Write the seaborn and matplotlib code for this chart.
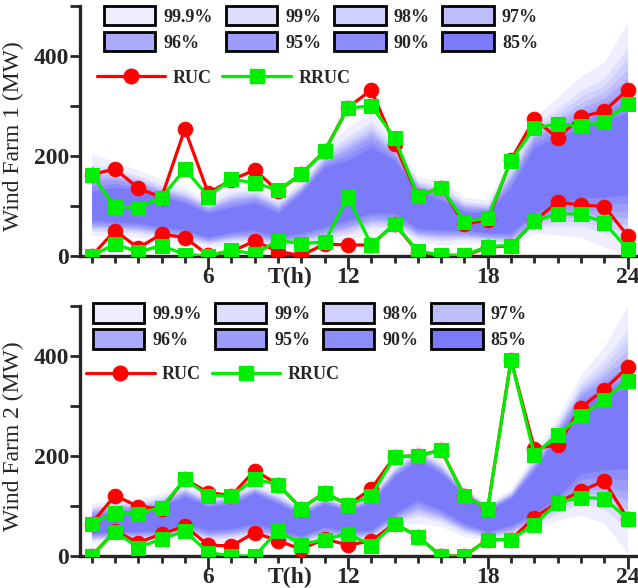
import numpy as np
import matplotlib.pyplot as plt
import seaborn as sns
from matplotlib.patches import Patch
from matplotlib.lines import Line2D

hours = np.arange(1, 25)

# confidence levels of the forecast fan, outermost first
levels = ['99.9%', '99%', '98%', '97%', '96%', '95%', '90%', '85%']
level_colors = ['#EEEEFE', '#DEDEFE', '#D0D0FE', '#BEBEFD', '#ABABFC', '#9C9CFB', '#8D8DFA', '#7B7BFA']
# where each level sits between the 85% core (0) and the 99.9% envelope (1)
level_pos = [1.0, 0.72, 0.6, 0.48, 0.38, 0.28, 0.14, 0.0]

# Wind farm 1: forecast envelope (99.9%) and core (85%) bounds, MW
wf1_hi = [204, 188, 172, 152, 138, 112, 138, 142, 118, 152, 216, 258, 288, 232, 158, 150, 118, 112, 192, 276, 318, 360, 388, 466]
wf1_core_hi = [130, 138, 132, 118, 106, 86, 98, 106, 86, 126, 178, 192, 218, 192, 130, 112, 88, 86, 138, 218, 238, 256, 272, 286]
wf1_core_lo = [72, 68, 66, 58, 52, 38, 48, 52, 38, 46, 58, 72, 86, 86, 55, 52, 52, 46, 46, 86, 106, 116, 118, 122]
wf1_lo = [40, 42, 38, 32, 26, 18, 22, 22, 16, 18, 26, 32, 46, 46, 28, 22, 26, 24, 18, 46, 42, 38, 18, 0]
# Wind farm 1: RUC / RRUC upper and lower bounds
wf1_ruc_hi = [163, 174, 136, 117, 254, 126, 152, 172, 130, 164, 210, 297, 332, 224, 120, 137, 64, 72, 192, 274, 236, 278, 290, 332]
wf1_ruc_lo = [0, 51, 16, 44, 37, 2, 9, 30, 9, 1, 24, 22, 22, 64, 8, 0, 0, 18, 20, 70, 108, 102, 99, 41]
wf1_rruc_hi = [163, 99, 97, 117, 174, 119, 154, 146, 132, 164, 210, 296, 300, 237, 120, 137, 69, 76, 191, 256, 264, 260, 268, 304]
wf1_rruc_lo = [0, 24, 8, 21, 3, 0, 12, 4, 31, 25, 28, 118, 23, 64, 10, 2, 2, 19, 21, 70, 84, 84, 67, 14]

# Wind farm 2
wf2_hi = [106, 112, 115, 125, 145, 119, 129, 145, 129, 100, 125, 105, 127, 185, 225, 192, 139, 105, 135, 205, 279, 362, 419, 499]
wf2_core_hi = [79, 89, 92, 99, 119, 99, 105, 125, 105, 82, 105, 89, 107, 159, 192, 165, 122, 92, 115, 172, 239, 305, 322, 335]
wf2_core_lo = [45, 49, 49, 52, 65, 52, 55, 65, 52, 40, 59, 49, 52, 85, 112, 92, 65, 49, 62, 85, 119, 165, 172, 175]
wf2_lo = [26, 29, 29, 29, 39, 25, 29, 35, 25, 19, 32, 25, 32, 59, 66, 59, 39, 32, 35, 55, 72, 82, 65, 5]
wf2_ruc_hi = [65, 121, 99, 94, 154, 127, 121, 171, 143, 95, 127, 102, 134, 199, 200, 212, 120, 95, 392, 215, 222, 297, 333, 377]
wf2_ruc_lo = [0, 50, 27, 44, 60, 22, 20, 47, 30, 14, 34, 22, 30, 65, 39, 0, 0, 33, 33, 77, 107, 130, 150, 75]
wf2_rruc_hi = [65, 87, 85, 97, 154, 121, 120, 154, 143, 95, 127, 102, 120, 199, 200, 212, 120, 95, 392, 203, 242, 280, 313, 351]
wf2_rruc_lo = [0, 49, 17, 34, 50, 7, 0, 0, 51, 23, 33, 45, 21, 65, 39, 0, 0, 33, 33, 63, 107, 117, 115, 75]

sns.set_style('ticks')
plt.rcParams['font.family'] = ['Liberation Serif', 'DejaVu Serif']

RED = '#FF0000'
GREEN = '#00EE00'
tick_font = dict(family='Liberation Serif', size=17, weight='bold')
leg_font = dict(family='Liberation Serif', size=13, weight='bold')


def draw_panel(ax, hi, core_hi, core_lo, lo, ruc_hi, ruc_lo, rruc_hi, rruc_lo,
               ylabel, fan_anchor, line_anchor):
    hi, core_hi, core_lo, lo = map(np.array, (hi, core_hi, core_lo, lo))
    for p, c in zip(level_pos, level_colors):
        upper = core_hi + p * (hi - core_hi)
        lower = core_lo - p * (core_lo - lo)
        ax.fill_between(hours, lower, upper, color=c, lw=0, zorder=1)

    for y, col, mk, ms in [(ruc_hi, RED, 'o', 10.5), (ruc_lo, RED, 'o', 10.5),
                           (rruc_hi, GREEN, 's', 9.5), (rruc_lo, GREEN, 's', 9.5)]:
        sns.lineplot(x=hours, y=y, ax=ax, color=col, marker=mk, markersize=ms,
                     markeredgecolor=col, linewidth=2.3, zorder=3)

    ax.set_xlim(0.5, 24.45)
    ax.set_ylim(0, 500)
    sns.despine(ax=ax)
    for s in ['left', 'bottom']:
        ax.spines[s].set_linewidth(2.4)

    ax.set_xticks([6, 9.5, 12, 18, 24])
    ax.set_xticklabels(['6', 'T(h)', '12', '18', '24'], fontdict=tick_font)
    ax.set_xticks(hours, minor=True)
    ax.set_yticks([0, 200, 400])
    ax.set_yticklabels(['0', '200', '400'], fontdict=tick_font)
    ax.set_yticks([100, 300, 500], minor=True)
    ax.tick_params(axis='x', which='major', length=9, width=2, pad=-1)
    ax.tick_params(axis='x', which='minor', length=5, width=2)
    ax.tick_params(axis='y', which='both', length=7, width=2, pad=1)
    ax.xaxis.get_major_ticks()[1].tick1line.set_visible(False)

    ax.set_ylabel(ylabel, fontsize=17, family='Liberation Serif')
    ax.yaxis.set_label_coords(-0.1, 0.48)

    fan_handles = [Patch(facecolor=c, edgecolor='black', linewidth=2) for c in level_colors]
    order = [0, 4, 1, 5, 2, 6, 3, 7]
    leg1 = ax.legend([fan_handles[i] for i in order], [levels[i] for i in order],
                     ncol=4, loc='upper left', bbox_to_anchor=fan_anchor, frameon=False,
                     handlelength=2.85, handleheight=1.25, handletextpad=0.45,
                     columnspacing=0.7, labelspacing=0.35, borderpad=0,
                     borderaxespad=0, prop=leg_font)
    ax.add_artist(leg1)
    line_handles = [Line2D([], [], color=RED, marker='o', markersize=10.5, lw=2.3),
                    Line2D([], [], color=GREEN, marker='s', markersize=9.5, lw=2.3)]
    ax.legend(line_handles, ['RUC', 'RRUC'], ncol=2, loc='upper left',
              bbox_to_anchor=line_anchor, frameon=False, handlelength=3.8,
              handletextpad=0.4, columnspacing=0.6, borderpad=0, borderaxespad=0,
              prop=leg_font)


fig = plt.figure(figsize=(6.38, 5.88), dpi=100)
ax1 = fig.add_axes([0.1254, 0.5646, 0.8746, 0.4252])
ax2 = fig.add_axes([0.1254, 0.0544, 0.8746, 0.4252])

draw_panel(ax1, wf1_hi, wf1_core_hi, wf1_core_lo, wf1_lo,
           wf1_ruc_hi, wf1_ruc_lo, wf1_rruc_hi, wf1_rruc_lo,
           'Wind Farm 1 (MW)', (0.043, 1.0), (0.030, 0.745))
draw_panel(ax2, wf2_hi, wf2_core_hi, wf2_core_lo, wf2_lo,
           wf2_ruc_hi, wf2_ruc_lo, wf2_rruc_hi, wf2_rruc_lo,
           'Wind Farm 2 (MW)', (0.023, 1.01), (0.011, 0.76))

fig.savefig('out.png', dpi=100)
